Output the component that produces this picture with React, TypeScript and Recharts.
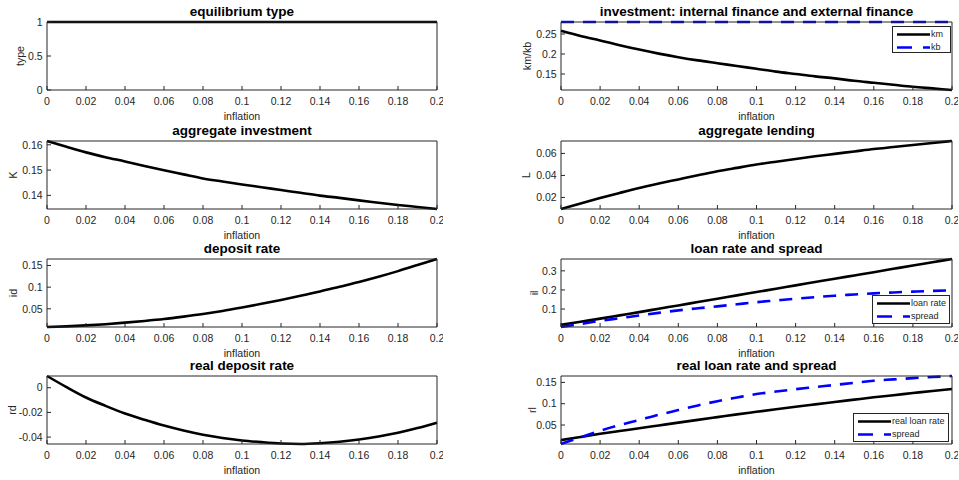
import { LineChart, Line, XAxis, YAxis } from "recharts";

const FONT = '"Liberation Sans", Arial, Helvetica, sans-serif';
const AXIS = "#262626";
const BLUE = "#0000ff";

// x values (inflation) and tick labels
const INFLATION = [
  0, 0.01, 0.02, 0.03, 0.04, 0.05, 0.06, 0.07, 0.08, 0.09, 0.1, 0.11, 0.12, 0.13, 0.14, 0.15,
  0.16, 0.17, 0.18, 0.19, 0.2,
];
const X_TICKS = [0, 0.02, 0.04, 0.06, 0.08, 0.1, 0.12, 0.14, 0.16, 0.18, 0.2];

// series
const EQ_TYPE = [1, 1, 1, 1, 1, 1, 1, 1, 1, 1, 1, 1, 1, 1, 1, 1, 1, 1, 1, 1, 1];
const KM = [
  0.258, 0.245, 0.234, 0.222, 0.211, 0.201, 0.192, 0.184, 0.177, 0.17, 0.163, 0.156, 0.15, 0.144,
  0.139, 0.133, 0.128, 0.123, 0.118, 0.114, 0.11,
];
const KB = [
  0.28, 0.28, 0.28, 0.28, 0.28, 0.28, 0.28, 0.28, 0.28, 0.28, 0.28, 0.28, 0.28, 0.28, 0.28, 0.28,
  0.28, 0.28, 0.28, 0.28, 0.28,
];
const K = [
  0.1615, 0.1592, 0.157, 0.1551, 0.1534, 0.1516, 0.1499, 0.1483, 0.1467, 0.1455, 0.1443, 0.1432,
  0.1421, 0.141, 0.1399, 0.139, 0.138, 0.1371, 0.1362, 0.1354, 0.1346,
];
const L = [
  0.0095, 0.0146, 0.0194, 0.0241, 0.0286, 0.0326, 0.0364, 0.0402, 0.0438, 0.0469, 0.0499, 0.0525,
  0.055, 0.0574, 0.0596, 0.0618, 0.064, 0.0658, 0.0676, 0.0695, 0.0713,
];
const ID = [
  0.008, 0.0095, 0.0117, 0.0145, 0.018, 0.022, 0.0265, 0.032, 0.038, 0.045, 0.053, 0.0615, 0.0705,
  0.08, 0.09, 0.101, 0.112, 0.124, 0.137, 0.151, 0.165,
];
const IL = [
  0.017, 0.0335, 0.05, 0.067, 0.084, 0.1015, 0.119, 0.1365, 0.154, 0.1715, 0.189, 0.2065, 0.224,
  0.2415, 0.259, 0.276, 0.293, 0.3105, 0.328, 0.345, 0.362,
];
const IL_SPREAD = [
  0.006, 0.022, 0.038, 0.052, 0.066, 0.08, 0.093, 0.104, 0.114, 0.125, 0.136, 0.145, 0.154, 0.162,
  0.17, 0.176, 0.182, 0.187, 0.191, 0.195, 0.198,
];
const RD = [
  0.0095, 0.0005, -0.0079, -0.0147, -0.0209, -0.026, -0.0307, -0.0347, -0.0381, -0.0407, -0.0427,
  -0.0441, -0.0452, -0.0456, -0.045, -0.0438, -0.0419, -0.0395, -0.0365, -0.0327, -0.0283,
];
const RL = [
  0.0146, 0.022, 0.0294, 0.036, 0.0423, 0.049, 0.0557, 0.062, 0.0685, 0.075, 0.081, 0.087, 0.0929,
  0.0985, 0.104, 0.1095, 0.115, 0.12, 0.125, 0.13, 0.1344,
];
const RL_SPREAD = [
  0.0055, 0.021, 0.0366, 0.05, 0.0618, 0.074, 0.085, 0.096, 0.106, 0.1145, 0.1226, 0.1285, 0.134,
  0.139, 0.144, 0.149, 0.154, 0.157, 0.16, 0.1625, 0.165,
];

const TYPE_TICKS = [0, 0.5, 1];
const TYPE_DOMAIN = [0, 1];
const KMKB_TICKS = [0.15, 0.2, 0.25];
const K_TICKS = [0.14, 0.15, 0.16];
const L_TICKS = [0.02, 0.04, 0.06];
const ID_TICKS = [0.05, 0.1, 0.15];
const IL_TICKS = [0.1, 0.2, 0.3];
const RD_TICKS = [-0.04, -0.02, 0];
const RL_TICKS = [0.05, 0.1, 0.15];

// subplot geometry (MATLAB-like 4x2 grid)
const COL_LEFT = [47, 561];
const COL_WIDTH = [390, 391];
const ROW_TOP = [21.5, 141, 258.5, 376];
const PLOT_H = 68;
const YW = 47;
const XH = 40;
const TM = 9;
const RM = 6;

interface Series {
  key: string;
  name: string;
  values: number[];
  color: string;
  dashed?: boolean;
}

interface LegendBox {
  left: number;
  top: number;
  width: number;
  height: number;
}

interface PanelDef {
  title: string;
  yLabel: string;
  yLabelOffset: number;
  col: number;
  row: number;
  series: Series[];
  yTicks: number[];
  yDomain?: number[];
  legend?: LegendBox;
}

const PANELS: PanelDef[] = [
  {
    title: "equilibrium type",
    yLabel: "type",
    yLabelOffset: 27,
    col: 0,
    row: 0,
    series: [{ key: "type", name: "type", values: EQ_TYPE, color: "#000" }],
    yTicks: TYPE_TICKS,
    yDomain: TYPE_DOMAIN,
  },
  {
    title: "investment: internal finance and external finance",
    yLabel: "km/kb",
    yLabelOffset: 34,
    col: 1,
    row: 0,
    series: [
      { key: "km", name: "km", values: KM, color: "#000" },
      { key: "kb", name: "kb", values: KB, color: BLUE, dashed: true },
    ],
    yTicks: KMKB_TICKS,
    legend: { left: 892, top: 25.5, width: 59, height: 27.5 },
  },
  {
    title: "aggregate investment",
    yLabel: "K",
    yLabelOffset: 34,
    col: 0,
    row: 1,
    series: [{ key: "K", name: "K", values: K, color: "#000" }],
    yTicks: K_TICKS,
  },
  {
    title: "aggregate lending",
    yLabel: "L",
    yLabelOffset: 35,
    col: 1,
    row: 1,
    series: [{ key: "L", name: "L", values: L, color: "#000" }],
    yTicks: L_TICKS,
  },
  {
    title: "deposit rate",
    yLabel: "id",
    yLabelOffset: 34,
    col: 0,
    row: 2,
    series: [{ key: "id", name: "id", values: ID, color: "#000" }],
    yTicks: ID_TICKS,
  },
  {
    title: "loan rate and spread",
    yLabel: "il",
    yLabelOffset: 27,
    col: 1,
    row: 2,
    series: [
      { key: "il", name: "loan rate", values: IL, color: "#000" },
      { key: "sp", name: "spread", values: IL_SPREAD, color: BLUE, dashed: true },
    ],
    yTicks: IL_TICKS,
    legend: { left: 872, top: 295, width: 78, height: 29 },
  },
  {
    title: "real deposit rate",
    yLabel: "rd",
    yLabelOffset: 35,
    col: 0,
    row: 3,
    series: [{ key: "rd", name: "rd", values: RD, color: "#000" }],
    yTicks: RD_TICKS,
  },
  {
    title: "real loan rate and spread",
    yLabel: "rl",
    yLabelOffset: 29,
    col: 1,
    row: 3,
    series: [
      { key: "rl", name: "real loan rate", values: RL, color: "#000" },
      { key: "sp", name: "spread", values: RL_SPREAD, color: BLUE, dashed: true },
    ],
    yTicks: RL_TICKS,
    legend: { left: 853, top: 413, width: 96, height: 29 },
  },
];

function PanelLegend({ box, series }: { box: LegendBox; series: Series[] }) {
  return (
    <div
      style={{
        position: "absolute",
        left: box.left,
        top: box.top,
        width: box.width,
        height: box.height,
        boxSizing: "border-box",
        border: `1px solid ${AXIS}`,
        background: "#fff",
        paddingTop: 1,
      }}
    >
      {series.map((s) => (
        <div key={s.key} style={{ display: "flex", alignItems: "center", height: 13 }}>
          <svg width={38} height={13} style={{ flex: "none" }}>
            <line
              x1={4}
              x2={37}
              y1={6.5}
              y2={6.5}
              stroke={s.color}
              strokeWidth={2.5}
              strokeDasharray={s.dashed ? "15 11" : undefined}
            />
          </svg>
          <span style={{ fontSize: 9, color: AXIS, whiteSpace: "nowrap", lineHeight: "13px" }}>
            {s.name}
          </span>
        </div>
      ))}
    </div>
  );
}

function Panel({ def }: { def: PanelDef }) {
  const left = COL_LEFT[def.col];
  const top = ROW_TOP[def.row];
  const w = COL_WIDTH[def.col];
  const h = PLOT_H;

  const data = INFLATION.map((x, i) => {
    const row: Record<string, number> = { x };
    def.series.forEach((s) => (row[s.key] = s.values[i]));
    return row;
  });
  const all = def.series.flatMap((s) => s.values);
  const domain = def.yDomain ?? [Math.min(...all), Math.max(...all)];

  const chartW = YW + w + RM;
  const chartH = TM + h + XH;
  const tickStyle = { fill: AXIS, fontSize: 10.5, fontFamily: FONT };

  return (
    <>
      <div style={{ position: "absolute", left: left - YW, top: top - TM }}>
        <LineChart
          width={chartW}
          height={chartH}
          data={data}
          margin={{ top: TM - 1, right: RM - 1, bottom: 0, left: 0 }}
        >
          <XAxis
            dataKey="x"
            type="number"
            domain={[0, 0.2]}
            ticks={X_TICKS}
            interval={0}
            height={XH}
            tickSize={-4}
            tickMargin={11.6}
            tick={tickStyle}
            axisLine={{ stroke: AXIS }}
            tickLine={{ stroke: AXIS }}
          />
          <XAxis
            xAxisId="top"
            orientation="top"
            dataKey="x"
            type="number"
            domain={[0, 0.2]}
            ticks={X_TICKS}
            interval={0}
            height={1}
            tickSize={-4}
            tick={false}
            axisLine={{ stroke: AXIS }}
            tickLine={{ stroke: AXIS }}
          />
          <YAxis
            type="number"
            domain={domain}
            ticks={def.yTicks}
            interval={0}
            width={YW}
            tickSize={-4}
            tickMargin={8.3}
            tick={tickStyle}
            axisLine={{ stroke: AXIS }}
            tickLine={{ stroke: AXIS }}
          />
          <YAxis
            yAxisId="right"
            orientation="right"
            type="number"
            domain={domain}
            ticks={def.yTicks}
            interval={0}
            width={1}
            tickSize={-4}
            tick={false}
            axisLine={{ stroke: AXIS }}
            tickLine={{ stroke: AXIS }}
          />
          {def.series.map((s) => (
            <Line
              key={s.key}
              dataKey={s.key}
              name={s.name}
              type="monotone"
              stroke={s.color}
              strokeWidth={2.6}
              strokeDasharray={s.dashed ? "13 9" : undefined}
              dot={false}
              activeDot={false}
              isAnimationActive={false}
            />
          ))}
        </LineChart>
      </div>
      <div
        style={{
          position: "absolute",
          left,
          width: w,
          top: top - 19,
          height: 18,
          lineHeight: "18px",
          textAlign: "center",
          fontSize: 13.5,
          fontWeight: "bold",
          color: "#000",
          whiteSpace: "nowrap",
        }}
      >
        {def.title}
      </div>
      <div
        style={{
          position: "absolute",
          left,
          width: w,
          top: top + h + 19,
          height: 14,
          lineHeight: "14px",
          textAlign: "center",
          fontSize: 10.6,
          color: AXIS,
        }}
      >
        inflation
      </div>
      <div
        style={{
          position: "absolute",
          left: left - def.yLabelOffset,
          top: top + h / 2,
          transform: "translate(-50%, -50%) rotate(-90deg)",
          fontSize: 10.6,
          lineHeight: "14px",
          color: AXIS,
          whiteSpace: "nowrap",
        }}
      >
        {def.yLabel}
      </div>
      {def.legend && <PanelLegend box={def.legend} series={def.series} />}
    </>
  );
}

export default function App() {
  return (
    <div
      style={{
        position: "absolute",
        left: 0,
        top: 0,
        width: 959,
        height: 480,
        background: "#fff",
        fontFamily: FONT,
        overflow: "hidden",
      }}
    >
      {PANELS.map((p, i) => (
        <Panel key={i} def={p} />
      ))}
    </div>
  );
}
